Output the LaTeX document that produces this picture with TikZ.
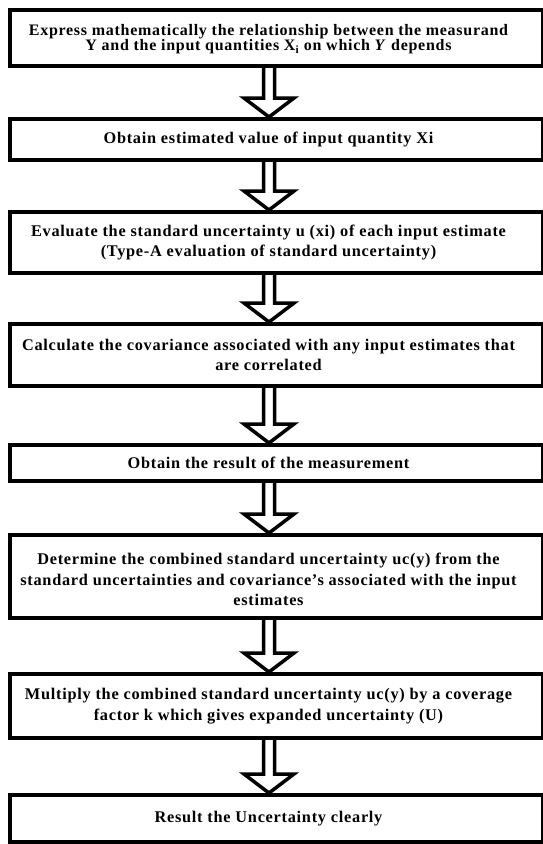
\documentclass[tikz,border=0pt]{standalone}
\usepackage{fontspec}
\setmainfont{Liberation Serif}
\newfontfamily\boxfont[LetterSpace=4.5]{Liberation Serif}
\usetikzlibrary{calc}
\tikzset{
  stepbox/.style={draw=black, line width=4pt, fill=white, rectangle, minimum width=533pt, inner sep=0pt},
  steptext/.style={align=center, text=black, inner sep=0pt, font=\boxfont\bfseries\fontsize{16.3}{20.5}\selectfont},
  bigarrow/.style={draw=black, fill=white, line width=3.5pt, line join=miter}
}
\newcommand\flowarrow[2]{%
  \draw[bigarrow] let \p1=(#1.south), \p2=(#2.north) in
    ({\x1-13pt},\y1) -- ({\x1-13pt},{\y2+19pt}) -- ({\x1-32.5pt},{\y2+19pt}) --
    ({\x1-7.5pt},\y2) -- ({\x1+17.5pt},{\y2+19pt}) -- ({\x1-2pt},{\y2+19pt}) -- ({\x1-2pt},\y1);}
\begin{document}
\begin{tikzpicture}[x=1pt,y=-1pt]
\useasboundingbox[fill=white] (0,0) rectangle (543,844);
\node[stepbox, minimum height=56pt] (b1) at (276.5,38) {};
\node[stepbox, minimum height=41pt] (b2) at (276.5,139.5) {};
\node[stepbox, minimum height=61pt] (b3) at (276.5,242.5) {};
\node[stepbox, minimum height=62pt] (b4) at (276.5,355) {};
\node[stepbox, minimum height=36pt] (b5) at (276.5,463) {};
\node[stepbox, minimum height=83pt] (b6) at (276.5,576.5) {};
\node[stepbox, minimum height=64pt] (b7) at (276.5,706) {};
\node[stepbox, minimum height=47pt] (b8) at (276.5,818.5) {};

\node[steptext, font=\boxfont\bfseries\fontsize{16}{14}\selectfont] (t1) at ([xshift=-8pt,yshift=-1pt]b1.center) {Express mathematically the relationship between the measurand\\Y and the input quantities X\textsubscript{i} on which \textit{Y} depends};
\node[steptext] (t2) at ([xshift=-8pt]b2.center) {Obtain estimated value of input quantity Xi};
\node[steptext] (t3) at ([xshift=-8pt]b3.center) {Evaluate the standard uncertainty u (xi) of each input estimate\\(Type-A evaluation of standard uncertainty)};
\node[steptext] (t4) at ([xshift=-8pt]b4.center) {Calculate the covariance associated with any input estimates that\\are correlated};
\node[steptext] (t5) at ([xshift=-8pt]b5.center) {Obtain the result of the measurement};
\node[steptext] (t6) at ([xshift=-8pt,yshift=-3pt]b6.center) {Determine the combined standard uncertainty uc(y) from the\\standard uncertainties and covariance’s associated with the input\\estimates};
\node[steptext] (t7) at ([xshift=-8pt]b7.center) {Multiply the combined standard uncertainty uc(y) by a coverage\\factor k which gives expanded uncertainty (U)};
\node[steptext] (t8) at ([xshift=-8pt]b8.center) {Result the Uncertainty clearly};

\flowarrow{b1}{b2}
\flowarrow{b2}{b3}
\flowarrow{b3}{b4}
\flowarrow{b4}{b5}
\flowarrow{b5}{b6}
\flowarrow{b6}{b7}
\flowarrow{b7}{b8}
\end{tikzpicture}
\end{document}
